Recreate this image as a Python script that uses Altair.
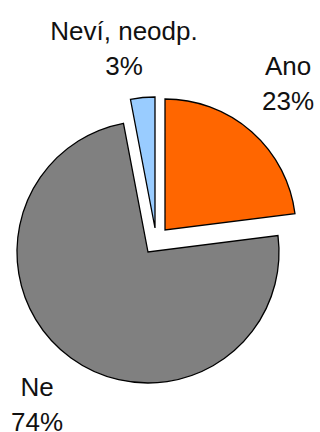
import altair as alt
import pandas as pd

# ---- data ----
categories = ["Ano", "Ne", "Neví, neodp."]
values = [23, 74, 3]
pct_labels = ["23%", "74%", "3%"]

# ---- style ----
colors = ["#FF6600", "#808080", "#99CCFF"]
CX, CY, R = 148, 252, 131
LINE_H = 35
SLICE_SHIFT = {"Ano": (17, -22), "Ne": (0, 0), "Neví, neodp.": (7, -24)}
LABEL_SHIFT = {"Ano": (140, -168), "Ne": (-111, 153), "Neví, neodp.": (-24, -203)}

df = pd.DataFrame({
    "cat": categories,
    "value": values,
    "order": list(range(len(categories))),
    "label": [f"{c}\n{p}" for c, p in zip(categories, pct_labels)],
    "sdx": [SLICE_SHIFT[c][0] for c in categories],
    "sdy": [SLICE_SHIFT[c][1] for c in categories],
    "ldx": [LABEL_SHIFT[c][0] for c in categories],
    "ldy": [LABEL_SHIFT[c][1] for c in categories],
})

base = alt.Chart(df).transform_window(
    cum="sum(value)", sort=[alt.SortField("order")], frame=[None, 0]
).transform_calculate(
    start="datum.cum - datum.value",
    cx=f"{CX} + datum.sdx",
    cy=f"{CY} + datum.sdy",
    lx=f"{CX} + datum.ldx",
    ly=f"{CY} + datum.ldy - {LINE_H / 2}",
)

theta_scale = alt.Scale(domain=[0, 100], range=[0, 6.283185307179586])

arcs = base.mark_arc(radius=R, stroke="black", strokeWidth=1.3).encode(
    theta=alt.Theta("start:Q", scale=theta_scale),
    theta2="cum:Q",
    x=alt.X("cx:Q", scale=None, axis=None),
    y=alt.Y("cy:Q", scale=None, axis=None),
    color=alt.Color("cat:N", scale=alt.Scale(domain=categories, range=colors), legend=None),
)

labels = base.mark_text(
    font="Liberation Sans", fontSize=26, color="#111111",
    align="center", baseline="middle", lineBreak="\n", lineHeight=LINE_H,
).encode(
    x=alt.X("lx:Q", scale=None, axis=None),
    y=alt.Y("ly:Q", scale=None, axis=None),
    text="label:N",
)

chart = alt.layer(arcs, labels).properties(
    width=320, height=432, padding=0, autosize=alt.AutoSizeParams(type="none"),
    background="white",
).configure_view(stroke=None)

chart.save("out.html", embed_options={"renderer": "svg", "actions": False})
